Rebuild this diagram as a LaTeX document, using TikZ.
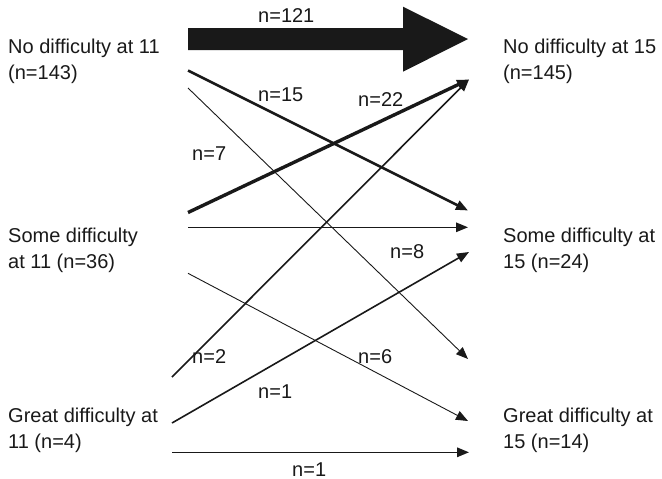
\documentclass[tikz,border=0pt]{standalone}
\usepackage{fontspec}
\setmainfont{Liberation Sans}
\usetikzlibrary{arrows.meta,calc}
\begin{document}
\begin{tikzpicture}[x=1pt,y=-1pt,
  every node/.style={font=\fontsize{20}{26.5}\selectfont, text=black!90, inner sep=0pt},
  state/.style={align=left, anchor=base west},
  count/.style={anchor=base west},
  flow/.style={draw=black!90, -{Triangle[length=12pt,width=9.5pt]}},
  thin flow/.style={flow, line width=0.9pt},
  mid flow/.style={flow, line width=1.6pt},
  thick flow/.style={flow, line width=2.6pt},
  heavy flow/.style={flow, line width=3.4pt}]
\useasboundingbox (0,0) rectangle (662,479);
% state labels (anchored at the baseline of their last line)
\node[state] (no11) at (8,79.5) {No difficulty at 11\\(n=143)};
\node[state] (some11) at (8,268.5) {Some difficulty\\at 11 (n=36)};
\node[state] (great11) at (8,448.5) {Great difficulty at\\11 (n=4)};
\node[state] (no15) at (503,79.5) {No difficulty at 15\\(n=145)};
\node[state] (some15) at (503,268.5) {Some difficulty at\\15 (n=24)};
\node[state] (great15) at (503,448.5) {Great difficulty at\\15 (n=14)};
% endpoints
\coordinate (sA) at (188,39);
\coordinate (tA) at (468,39);
\coordinate (s15) at (188,70.5);
\coordinate (t15) at (468,210.5);
\coordinate (s7) at (188,88);
\coordinate (t7) at (468,359);
\coordinate (s22) at (188,212.5);
\coordinate (t22) at (469,79.5);
\coordinate (sSS) at (188,227.3);
\coordinate (tSS) at (468,227.3);
\coordinate (s2) at (172,377);
\coordinate (t2) at (469,79.5);
\coordinate (s6) at (188,273.3);
\coordinate (t6) at (468,421);
\coordinate (sG1) at (172,423);
\coordinate (tG1) at (469,252);
\coordinate (sGG) at (172,452.3);
\coordinate (tGG) at (469,452.3);
% big arrow (n=121)
\fill[black!90] ($(sA)+(0,-11)$) -- (403,28) -- (403,6.7) -- (tA) -- (403,71.7) -- (403,50) -- ($(sA)+(0,11)$) -- cycle;
% connectors
\draw[thick flow] (s15) -- (t15);
\draw[thin flow] (s7) -- (t7);
\draw[heavy flow] (s22) -- (t22);
\draw[mid flow, line width=1.3pt] (sSS) -- (tSS);
\draw[mid flow] (s2) -- (t2);
\draw[thin flow] (s6) -- (t6);
\draw[mid flow] (sG1) -- (tG1);
\draw[mid flow] (sGG) -- (tGG);
% counts
\node[count] (c121) at (258,23) {n=121};
\node[count] (c15) at (258,101.5) {n=15};
\node[count] (c22) at (358,106) {n=22};
\node[count] (c7) at (192,160) {n=7};
\node[count] (c8) at (390,258) {n=8};
\node[count] (c2) at (192,363) {n=2};
\node[count] (c6) at (358,363) {n=6};
\node[count] (c1a) at (258,398) {n=1};
\node[count] (c1b) at (292,476) {n=1};
\end{tikzpicture}
\end{document}
